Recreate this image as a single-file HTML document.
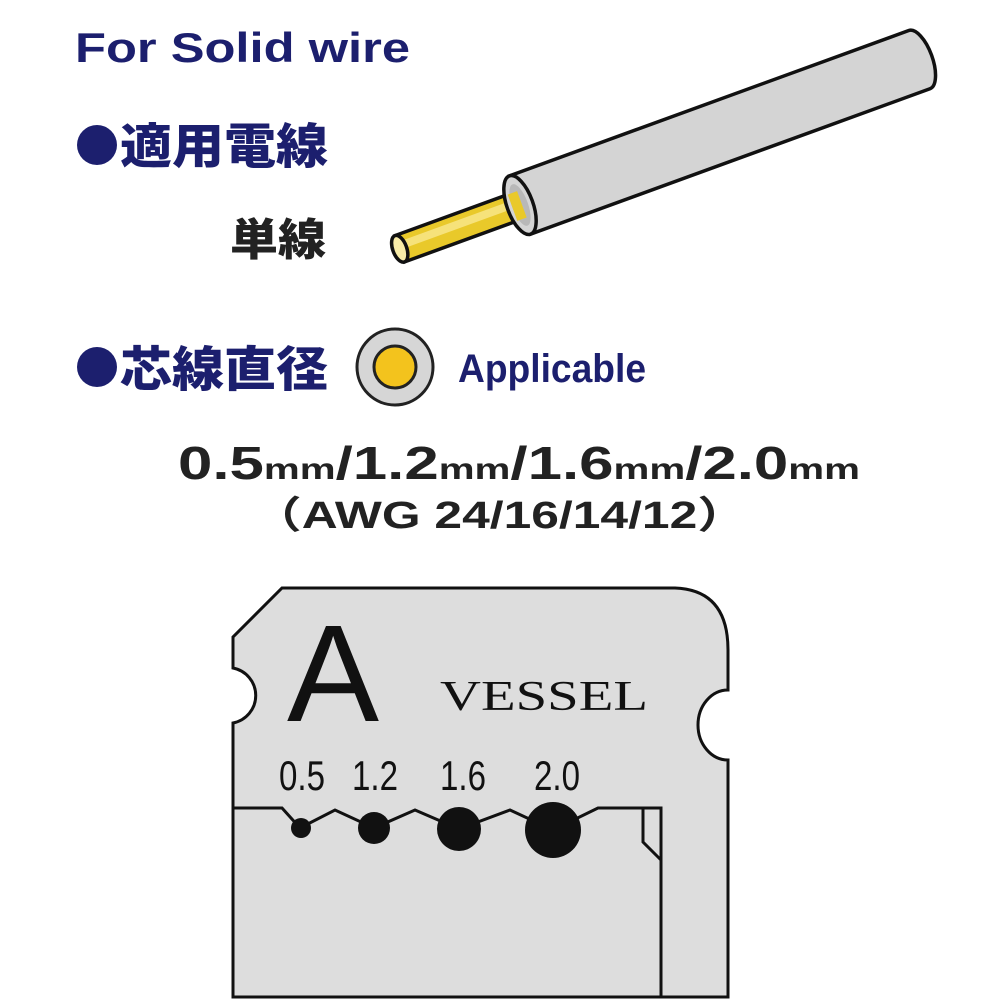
<!DOCTYPE html>
<html><head><meta charset="utf-8"><style>html,body{margin:0;padding:0;background:#fff}svg{display:block}</style></head>
<body>
<svg width="1000" height="1000" viewBox="0 0 1000 1000" xmlns="http://www.w3.org/2000/svg">
<g font-family="Liberation Sans, Noto Sans CJK JP, sans-serif" font-weight="bold" fill="#1c1f6e">
<text x="75" y="62" font-size="42" textLength="335" lengthAdjust="spacingAndGlyphs">For Solid wire</text>
<circle cx="97" cy="145" r="20"/>
<text x="120" y="163" font-size="48" font-family="Noto Sans CJK JP, sans-serif" font-weight="900" textLength="208" lengthAdjust="spacingAndGlyphs">適用電線</text>
<circle cx="97" cy="367" r="20"/>
<text x="120" y="386" font-size="48" font-family="Noto Sans CJK JP, sans-serif" font-weight="900" textLength="208" lengthAdjust="spacingAndGlyphs">芯線直径</text>
<text x="458" y="382" font-size="40" textLength="188" lengthAdjust="spacingAndGlyphs">Applicable</text>
</g>
<text x="230" y="255" font-size="44" font-family="Noto Sans CJK JP, sans-serif" font-weight="900" fill="#222" textLength="96" lengthAdjust="spacingAndGlyphs">単線</text>
<circle cx="395" cy="367" r="38" fill="#d6d6d6" stroke="#222" stroke-width="3"/>
<circle cx="395" cy="367" r="21" fill="#f3c31d" stroke="#222" stroke-width="3"/>
<text x="178" y="479" font-family="Liberation Sans, sans-serif" font-weight="bold" fill="#222" font-size="46" textLength="682" lengthAdjust="spacingAndGlyphs">0.5<tspan font-size="30">mm</tspan>/1.2<tspan font-size="30">mm</tspan>/1.6<tspan font-size="30">mm</tspan>/2.0<tspan font-size="30">mm</tspan></text>
<text x="252" y="528" font-family="Liberation Sans, Noto Sans CJK JP, sans-serif" font-weight="bold" fill="#222" font-size="38" textLength="495" lengthAdjust="spacingAndGlyphs">（AWG 24/16/14/12）</text>
<g transform="translate(520,205) rotate(-20)" stroke="#111" stroke-width="3.5">
<rect x="-128" y="-14" width="135" height="28" fill="#e9c92a"/>
<rect x="-128" y="-7" width="135" height="8" fill="#f6e27a" stroke="none"/>
<ellipse cx="-128" cy="0" rx="7" ry="14" fill="#f8eca8"/>
<path d="M0,-31 L425,-31 A13,31 0 0 1 425,31 L0,31 Z" fill="#d4d4d4"/>
<ellipse cx="0" cy="0" rx="13" ry="31" fill="#d4d4d4"/>
<ellipse cx="0" cy="0" rx="8" ry="22" fill="#b8b8b8" stroke="none"/>
<rect x="-8" y="-14" width="10" height="28" fill="#e9c92a" stroke="none"/>
</g>
<path d="M233,997 L233,723 A28,28 0 0 0 233,668 L233,637 L282,588 L675,588 Q728,590 728,650 L728,690 A30,35 0 0 0 728,760 L728,997 Z" fill="#dddddd" stroke="#111" stroke-width="3"/>
<path d="M233,808 L282,808 L300,828 L335,810 L374,828 L415,810 L459,829 L510,810 L553,830 L598,808 L661,808 L661,997" fill="none" stroke="#111" stroke-width="3"/>
<path d="M643,808 L643,842 L661,860" fill="none" stroke="#111" stroke-width="3"/>
<g fill="#111">
<circle cx="301" cy="828" r="10"/><circle cx="374" cy="828" r="16"/><circle cx="459" cy="829" r="22"/><circle cx="553" cy="830" r="28"/>
</g>
<text x="287" y="721" font-family="Liberation Sans, sans-serif" font-size="138" fill="#111">A</text>
<text x="440" y="710" font-family="Liberation Serif, serif" font-size="42" fill="#111" textLength="208" lengthAdjust="spacingAndGlyphs">VESSEL</text>
<g font-family="Liberation Sans, sans-serif" font-size="42" fill="#111">
<text x="279" y="790" textLength="46" lengthAdjust="spacingAndGlyphs">0.5</text>
<text x="352" y="790" textLength="46" lengthAdjust="spacingAndGlyphs">1.2</text>
<text x="440" y="790" textLength="46" lengthAdjust="spacingAndGlyphs">1.6</text>
<text x="534" y="790" textLength="46" lengthAdjust="spacingAndGlyphs">2.0</text>
</g>
</svg>
</body></html>
